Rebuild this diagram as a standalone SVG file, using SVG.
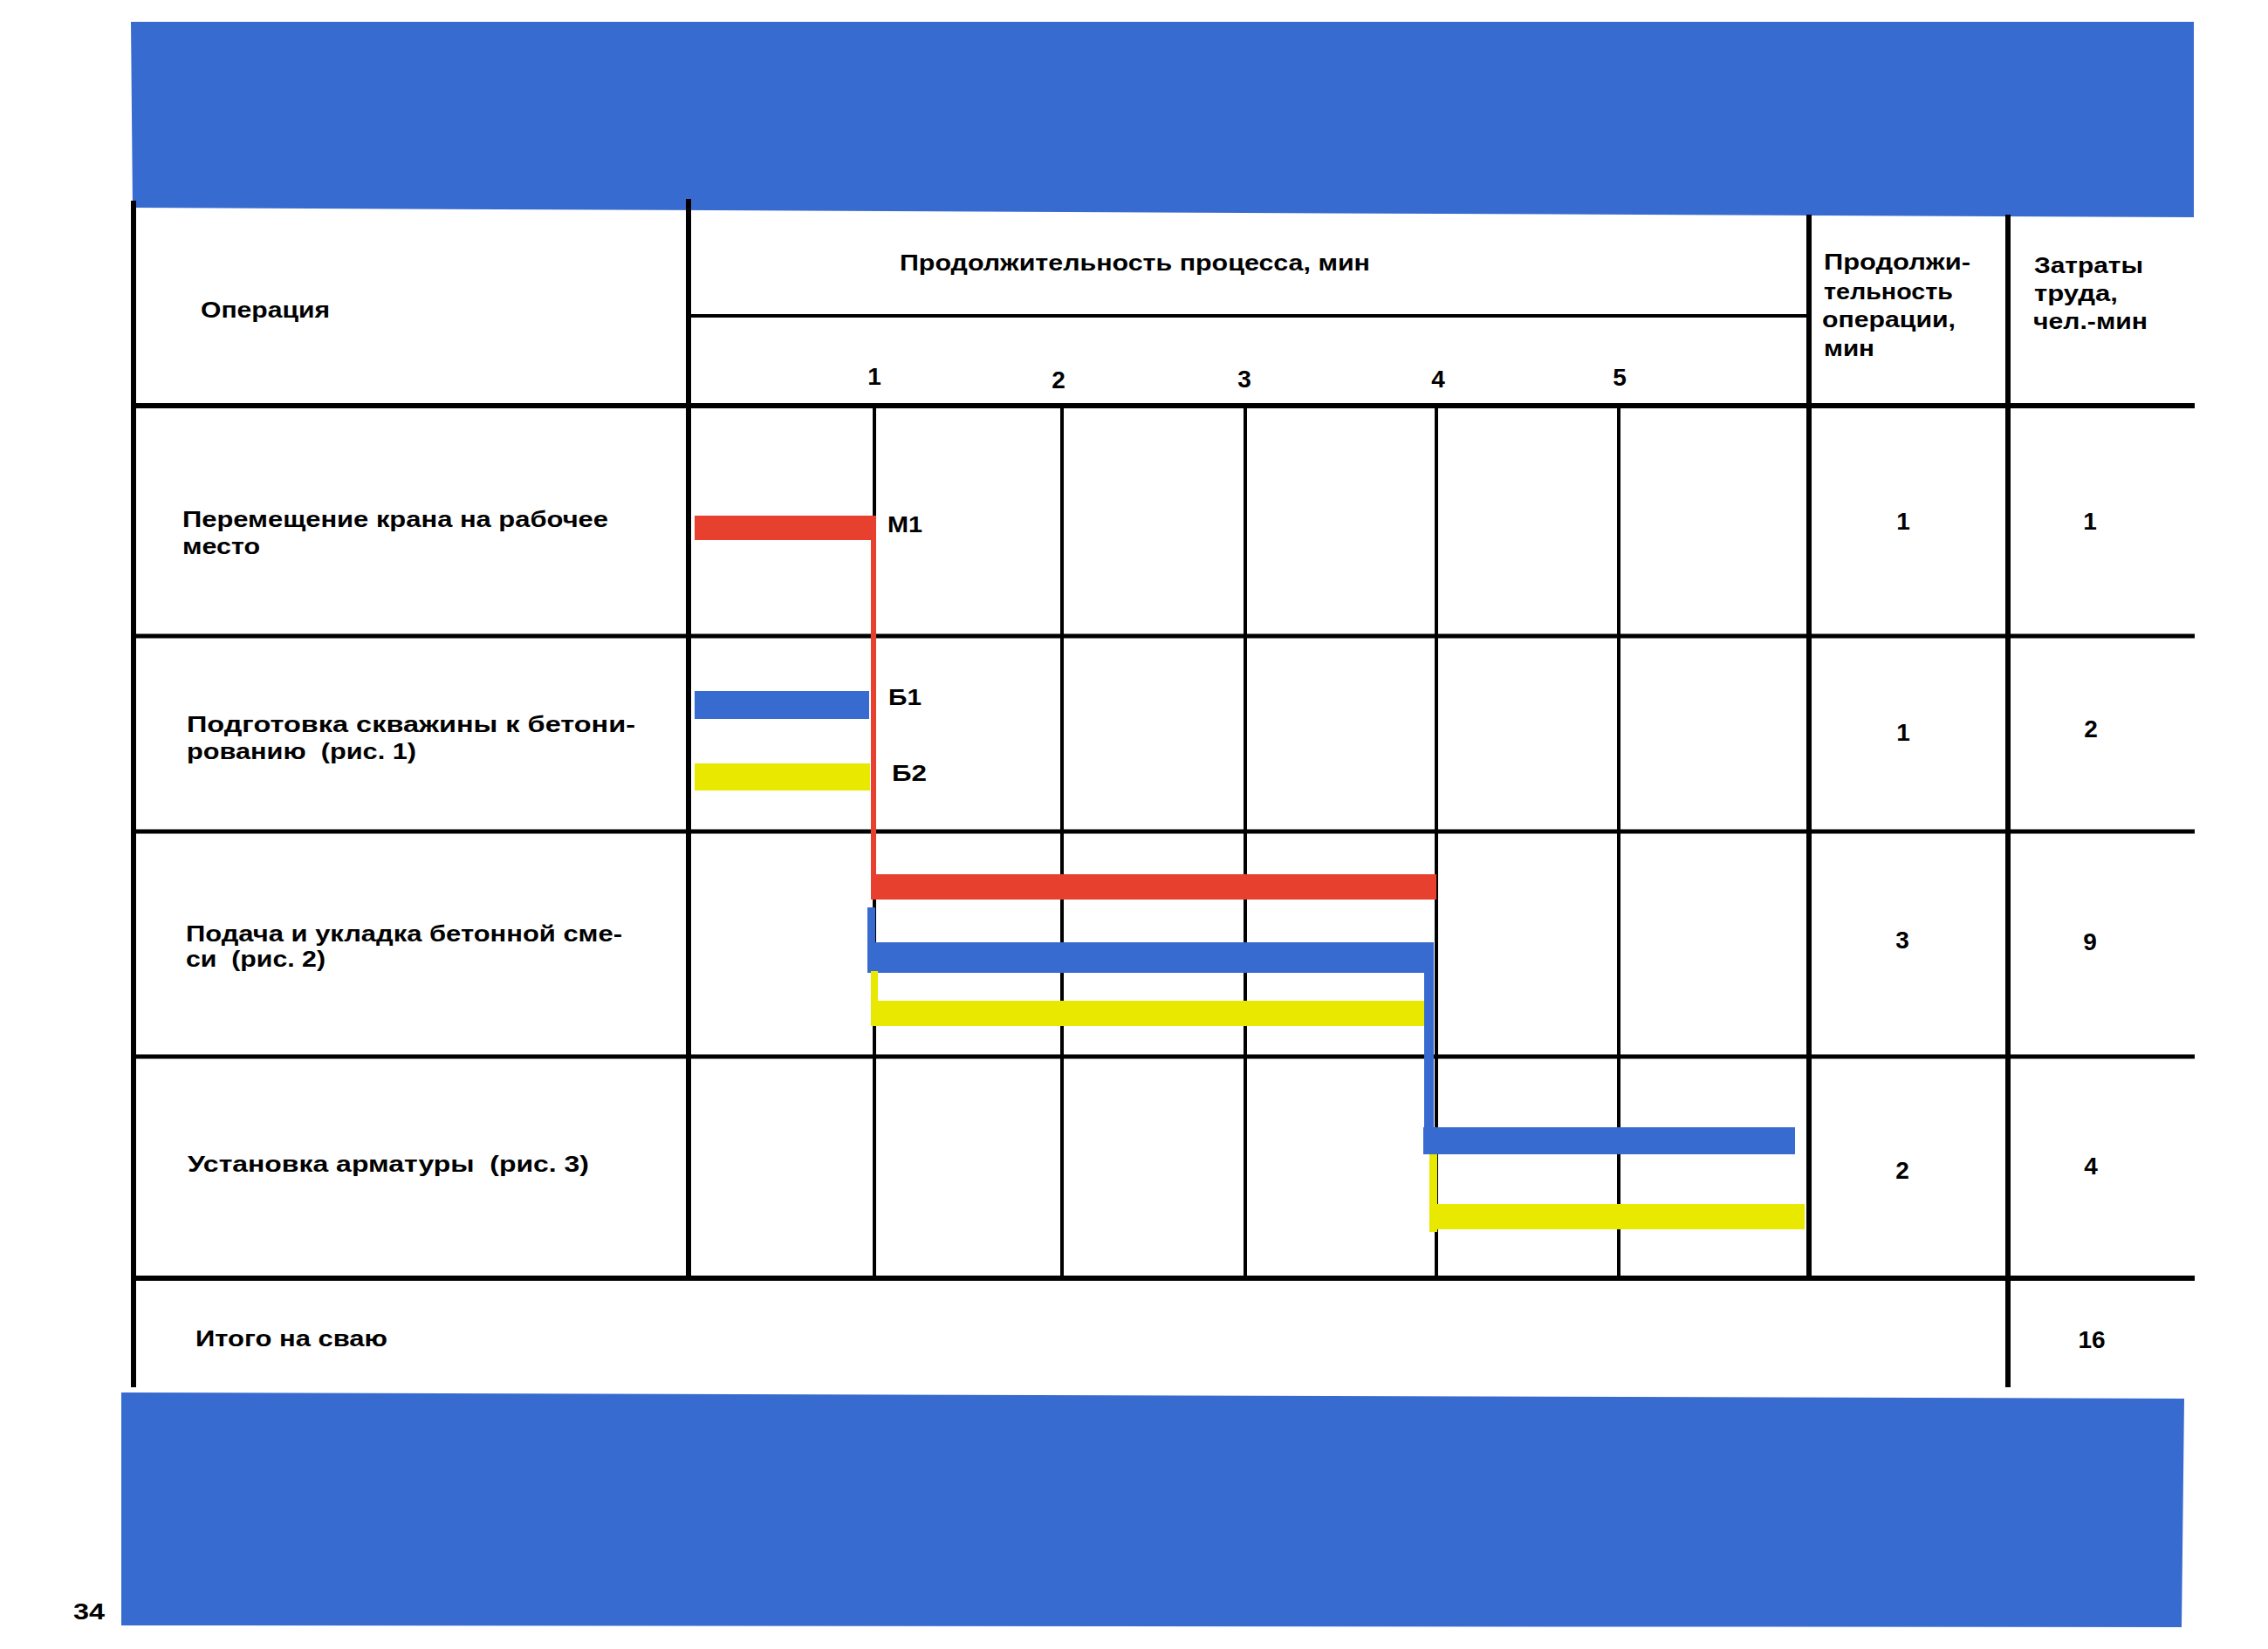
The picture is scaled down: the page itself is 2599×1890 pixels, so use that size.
<svg xmlns="http://www.w3.org/2000/svg" width="2599" height="1890" viewBox="0 0 2599 1890">
<style>
.t{font-family:"Liberation Sans","DejaVu Sans",Arial,sans-serif;font-weight:bold;font-size:26px;fill:#000;white-space:pre}
.n{font-family:"Liberation Sans","DejaVu Sans",Arial,sans-serif;font-weight:bold;font-size:28px;fill:#000;text-anchor:middle}
.thick{stroke:#000;stroke-width:6;fill:none}
.mid{stroke:#000;stroke-width:5;fill:none}
.thin{stroke:#000;stroke-width:4;fill:none}
.red{fill:#E8402F}
.blue{fill:#386BCF}
.yel{fill:#E8E800}
</style>
<rect width="2599" height="1890" fill="#fff"/>
<g id="bands">
<polygon class="blue" points="150,25 2514,25 2514,249 152,238"/>
<polygon class="blue" points="139,1596 2503,1603 2500,1865 139,1863"/>
</g>
<g id="grid">
<line class="thick" x1="153" y1="230" x2="153" y2="1590"/>
<line class="thick" x1="789" y1="228" x2="789" y2="1465"/>
<line class="thick" x1="2073" y1="246" x2="2073" y2="1465"/>
<line class="thick" x1="2301" y1="246" x2="2301" y2="1590"/>
<line class="thin" x1="789" y1="362" x2="2073" y2="362"/>
<line class="thick" x1="153" y1="465" x2="2515" y2="465"/>
<line class="mid" x1="153" y1="729" x2="2515" y2="729"/>
<line class="mid" x1="153" y1="953" x2="2515" y2="953"/>
<line class="mid" x1="153" y1="1211" x2="2515" y2="1211"/>
<line class="thick" x1="153" y1="1465" x2="2515" y2="1465"/>
<line class="thin" x1="1002" y1="465" x2="1002" y2="1465"/>
<line class="thin" x1="1217" y1="465" x2="1217" y2="1465"/>
<line class="thin" x1="1427" y1="465" x2="1427" y2="1465"/>
<line class="thin" x1="1646" y1="465" x2="1646" y2="1465"/>
<line class="thin" x1="1855" y1="465" x2="1855" y2="1465"/>
</g>
<g id="header">
<text class="t" x="230" y="364" textLength="148" lengthAdjust="spacingAndGlyphs">Операция</text>
<text class="t" x="1031" y="310" textLength="539" lengthAdjust="spacingAndGlyphs">Продолжительность процесса, мин</text>
<text class="n" x="1002" y="441">1</text>
<text class="n" x="1213" y="445">2</text>
<text class="n" x="1426" y="444">3</text>
<text class="n" x="1648" y="444">4</text>
<text class="n" x="1856" y="442">5</text>
<text class="t" x="2090" y="309" textLength="168" lengthAdjust="spacingAndGlyphs">Продолжи-</text>
<text class="t" x="2090" y="343" textLength="148" lengthAdjust="spacingAndGlyphs">тельность</text>
<text class="t" x="2088" y="375" textLength="153" lengthAdjust="spacingAndGlyphs">операции,</text>
<text class="t" x="2090" y="408" textLength="58" lengthAdjust="spacingAndGlyphs">мин</text>
<text class="t" x="2331" y="313" textLength="125" lengthAdjust="spacingAndGlyphs">Затраты</text>
<text class="t" x="2331" y="345" textLength="96" lengthAdjust="spacingAndGlyphs">труда,</text>
<text class="t" x="2330" y="377" textLength="131" lengthAdjust="spacingAndGlyphs">чел.-мин</text>
</g>
<g id="row1">
<text class="t" x="209" y="604" textLength="488" lengthAdjust="spacingAndGlyphs">Перемещение крана на рабочее</text>
<text class="t" x="209" y="635" textLength="89" lengthAdjust="spacingAndGlyphs">место</text>
<text class="n" x="2181" y="607">1</text>
<text class="n" x="2395" y="607">1</text>
</g>
<g id="row2">
<text class="t" x="214" y="839" textLength="514" lengthAdjust="spacingAndGlyphs">Подготовка скважины к бетони-</text>
<text class="t" x="214" y="870" textLength="263" lengthAdjust="spacingAndGlyphs">рованию  (рис. 1)</text>
<text class="n" x="2181" y="849">1</text>
<text class="n" x="2396" y="845">2</text>
</g>
<g id="row3">
<text class="t" x="213" y="1079" textLength="500" lengthAdjust="spacingAndGlyphs">Подача и укладка бетонной сме-</text>
<text class="t" x="213" y="1108" textLength="160" lengthAdjust="spacingAndGlyphs">си  (рис. 2)</text>
<text class="n" x="2180" y="1087">3</text>
<text class="n" x="2395" y="1089">9</text>
</g>
<g id="row4">
<text class="t" x="215" y="1343" textLength="460" lengthAdjust="spacingAndGlyphs">Установка арматуры  (рис. 3)</text>
<text class="n" x="2180" y="1351">2</text>
<text class="n" x="2396" y="1346">4</text>
</g>
<g id="total">
<text class="t" x="224" y="1543" textLength="220" lengthAdjust="spacingAndGlyphs">Итого на сваю</text>
<text class="n" x="2397" y="1545">16</text>
</g>
<g id="connectors">
<rect class="red" x="796" y="591" width="207" height="28"/>
<rect class="red" x="998" y="591" width="6" height="440"/>
<rect class="red" x="998" y="1002" width="648" height="29"/>
<rect class="blue" x="796" y="792" width="200" height="32"/>
<rect class="yel" x="796" y="875" width="201" height="31"/>
<rect class="blue" x="994" y="1040" width="9" height="75"/>
<rect class="blue" x="994" y="1080" width="649" height="35"/>
<rect class="yel" x="998" y="1113" width="8" height="60"/>
<rect class="yel" x="998" y="1147" width="638" height="29"/>
<rect class="blue" x="1632" y="1080" width="11" height="243"/>
<rect class="blue" x="1631" y="1292" width="426" height="31"/>
<rect class="yel" x="1638" y="1323" width="9" height="89"/>
<rect class="yel" x="1638" y="1380" width="430" height="29"/>
</g>
<g id="labels">
<text class="t" x="1017" y="610" textLength="40" lengthAdjust="spacingAndGlyphs">М1</text>
<text class="t" x="1018" y="808" textLength="38" lengthAdjust="spacingAndGlyphs">Б1</text>
<text class="t" x="1022" y="895" textLength="40" lengthAdjust="spacingAndGlyphs">Б2</text>
</g>
<text class="t" x="84" y="1856" font-size="32" textLength="36" lengthAdjust="spacingAndGlyphs">34</text>
</svg>
